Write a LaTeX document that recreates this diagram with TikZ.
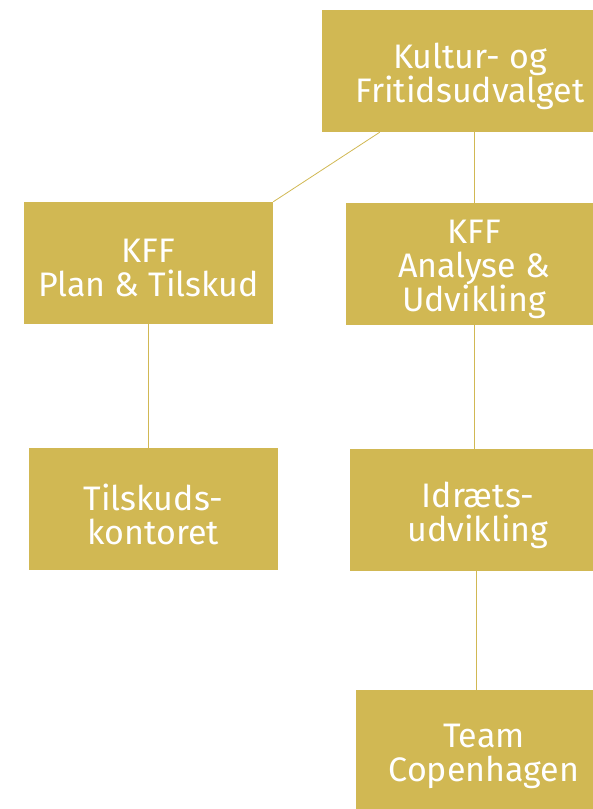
\documentclass[tikz,border=0pt]{standalone}
\usepackage{fontspec}
\setmainfont{Fira Sans}
\definecolor{kffgold}{HTML}{D1B853}
\tikzset{
  orgbox/.style={fill=kffgold, inner sep=0pt, minimum height=122pt},
  orgtext/.style={text=white, align=center, inner sep=0pt, yshift=-5pt,
    font=\fontsize{34}{34}\selectfont},
  orgline/.style={draw=kffgold, line width=0.8pt}
}
\begin{document}
\begin{tikzpicture}[x=1pt, y=-1pt]
            \useasboundingbox (0,0) rectangle (593,809);
            \node[orgbox, minimum width=296pt] (udvalg) at (470,71) {};
            \node[orgbox, minimum width=249pt] (plan) at (148.5,263) {};
            \node[orgbox, minimum width=256pt] (analyse) at (474,264) {};
            \node[orgbox, minimum width=249pt] (tilskud) at (153.5,509) {};
            \node[orgbox, minimum width=256pt] (idraet) at (478,510) {};
            \node[orgbox, minimum width=256pt] (team) at (484,751) {};
            \node[orgtext] (udvalg-t) at (udvalg) {Kultur- og\\Fritidsudvalget};
            \node[orgtext] (plan-t) at (plan) {KFF\\Plan \& Tilskud};
            \node[orgtext] (analyse-t) at (analyse) {KFF\\Analyse \&\\Udvikling};
            \node[orgtext] (tilskud-t) at (tilskud) {Tilskuds-\\kontoret};
            \node[orgtext] (idraet-t) at (idraet) {Idræts-\\udvikling};
            \node[orgtext] (team-t) at (team) {Team\\Copenhagen};
            \draw[orgline] ([xshift=58pt]udvalg.south west) -- (plan.north east);
            \draw[orgline] (analyse.north |- udvalg.south) -- (analyse.north);
            \draw[orgline] (plan.south) -- (plan.south |- tilskud.north);
            \draw[orgline] (analyse.south) -- (analyse.south |- idraet.north);
            \draw[orgline] ([xshift=-2pt]idraet.south) -- ([xshift=-2pt]idraet.south |- team.north);
        \end{tikzpicture}
\end{document}
